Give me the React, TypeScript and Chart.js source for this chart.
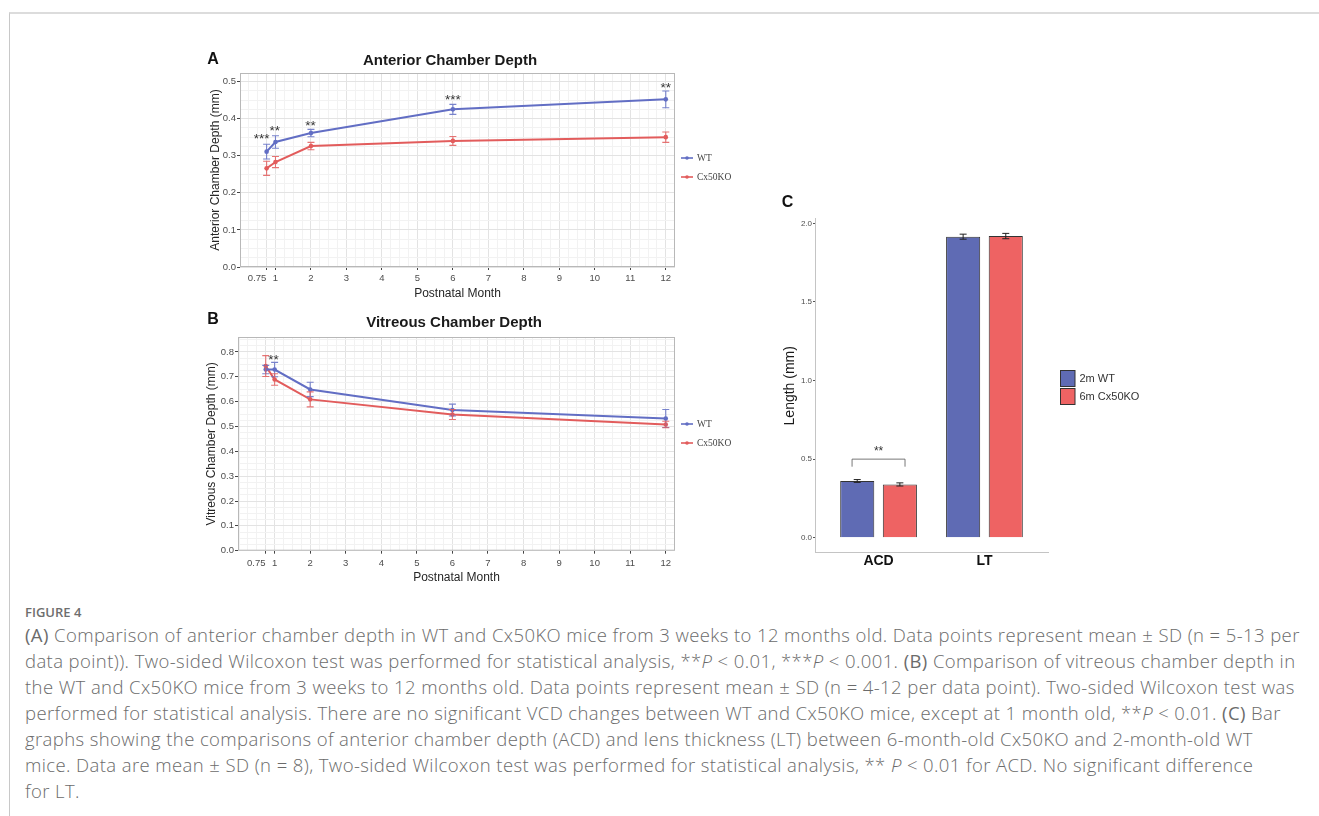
import React, { useEffect, useRef } from "react";
import { Chart, registerables } from "chart.js";
Chart.register(...registerables);

// ---------- data ----------
const months = [0.75, 1, 2, 6, 12];
const monthTicks = [0.75, 1, 2, 3, 4, 5, 6, 7, 8, 9, 10, 11, 12];
const monthTickLabels = ["0.75\u2003\u2003", "1", "2", "3", "4", "5", "6", "7", "8", "9", "10", "11", "12"];
const seriesNames = ["WT", "Cx50KO"];

const acdTicks = [0, 0.1, 0.2, 0.3, 0.4, 0.5];
const acdWT = [0.311, 0.337, 0.361, 0.425, 0.452];
const acdWTsd = [0.02, 0.017, 0.01, 0.0135, 0.0225];
const acdKO = [0.266, 0.283, 0.326, 0.34, 0.35];
const acdKOsd = [0.019, 0.015, 0.01, 0.012, 0.014];
const acdStarX = [0.61, 0.98, 1.99, 6.0, 12.0];
const acdStarY = [0.354, 0.376, 0.39, 0.46, 0.491];
const acdStarText = ["***", "**", "**", "***", "**"];

const vcdTicks = [0, 0.1, 0.2, 0.3, 0.4, 0.5, 0.6, 0.7, 0.8];
const vcdWT = [0.729, 0.729, 0.649, 0.566, 0.532];
const vcdWTsd = [0.017, 0.029, 0.029, 0.024, 0.036];
const vcdKO = [0.743, 0.689, 0.609, 0.548, 0.508];
const vcdKOsd = [0.042, 0.023, 0.03, 0.02, 0.013];
const vcdStarX = [0.97];
const vcdStarY = [0.78];
const vcdStarText = ["**"];

const barCategories = ["ACD", "LT"];
const barSeriesNames = ["2m WT", "6m Cx50KO"];
const barWT = [0.361, 1.915];
const barWTsd = [0.009, 0.016];
const barKO = [0.339, 1.919];
const barKOsd = [0.01, 0.017];
const barYTicks = [0, 0.5, 1.0, 1.5, 2.0];
const barStarX = [1];
const barStarY = [0.568];
const barStarText = ["**"];
const bracketX = [0.75, 1.25];
const bracketY = [0.5, 0.452];

// ---------- styles ----------
const BLUE = "rgb(98,110,196)";
const RED = "rgb(226,92,92)";
const BLUE_ERR = "rgba(98,110,196,0.85)";
const RED_ERR = "rgba(226,92,92,0.85)";
const BAR_BLUE = "rgb(95,107,180)";
const BAR_RED = "rgb(238,99,99)";
const SANS = "'Liberation Sans', Arial, sans-serif";
const SERIF = "'Liberation Serif', 'Times New Roman', serif";

const near = (a: number, b: number) => Math.abs(a - b) < 1e-7;

const decor = {
  id: "decor",
  beforeDatasetsDraw(chart: any, _a: any, o: any) {
    const ctx = chart.ctx;
    const ca = chart.chartArea;
    if (o.frame) {
      ctx.save();
      ctx.strokeStyle = o.frame;
      ctx.lineWidth = 1;
      ctx.strokeRect(ca.left + 0.5, ca.top + 0.5, ca.right - ca.left - 1, ca.bottom - ca.top - 1);
      ctx.restore();
    }
  },
  afterDatasetsDraw(chart: any, _a: any, o: any) {
    const ctx = chart.ctx;
    const xs = chart.scales.x;
    const ys = chart.scales.y;
    chart.data.datasets.forEach((ds: any, di: number) => {
      if (!ds.errors) return;
      const meta = chart.getDatasetMeta(di);
      ctx.save();
      ctx.strokeStyle = ds.errorColor;
      ctx.lineWidth = o.errWidth;
      meta.data.forEach((el: any, i: number) => {
        const v = ds.data[i].y;
        const x = el.x;
        const y1 = ys.getPixelForValue(v - ds.errors[i]);
        const y2 = ys.getPixelForValue(v + ds.errors[i]);
        ctx.beginPath();
        ctx.moveTo(x, y1);
        ctx.lineTo(x, y2);
        ctx.moveTo(x - o.cap, y1);
        ctx.lineTo(x + o.cap, y1);
        ctx.moveTo(x - o.cap, y2);
        ctx.lineTo(x + o.cap, y2);
        ctx.stroke();
      });
      ctx.restore();
    });
    if (o.bracket) {
      const b = o.bracket;
      const xa = xs.getPixelForValue(b.x[0]);
      const xb = xs.getPixelForValue(b.x[1]);
      const yt = ys.getPixelForValue(b.y[0]);
      const yl = ys.getPixelForValue(b.y[1]);
      ctx.save();
      ctx.strokeStyle = "#555";
      ctx.lineWidth = 0.8;
      ctx.beginPath();
      ctx.moveTo(xa, yl);
      ctx.lineTo(xa, yt);
      ctx.lineTo(xb, yt);
      ctx.lineTo(xb, yl);
      ctx.stroke();
      ctx.restore();
    }
    if (o.stars) {
      ctx.save();
      ctx.font = `${o.stars.size}px ${SANS}`;
      ctx.fillStyle = "#333";
      ctx.textAlign = "center";
      ctx.textBaseline = "middle";
      o.stars.text.forEach((t: string, i: number) => {
        ctx.fillText(t, xs.getPixelForValue(o.stars.x[i]), ys.getPixelForValue(o.stars.y[i]) + o.stars.size * 0.27);
      });
      ctx.restore();
    }
  },
  afterDraw(chart: any, _a: any, o: any) {
    const ctx = chart.ctx;
    const ca = chart.chartArea;
    ctx.save();
    ctx.fillStyle = "#111";
    ctx.textBaseline = "middle";
    if (o.letter) {
      ctx.font = `bold 16px ${SANS}`;
      ctx.textAlign = "center";
      ctx.fillText(o.letter, o.letterX, o.letterY);
    }
    if (o.title) {
      ctx.font = `bold 15px ${SANS}`;
      ctx.textAlign = "center";
      ctx.fillStyle = "#1a1a1a";
      ctx.fillText(o.title, o.titleX, o.titleY);
    }
    const lg = o.legend;
    if (lg) {
      lg.labels.forEach((lab: string, i: number) => {
        const x0 = ca.right + lg.dx;
        const y = ca.top + lg.top + i * lg.gap;
        if (lg.kind === "line") {
          ctx.strokeStyle = lg.colors[i];
          ctx.fillStyle = lg.colors[i];
          ctx.lineWidth = 1.6;
          ctx.beginPath();
          ctx.moveTo(x0, y);
          ctx.lineTo(x0 + 12, y);
          ctx.stroke();
          ctx.beginPath();
          ctx.arc(x0 + 6, y, 1.8, 0, Math.PI * 2);
          ctx.fill();
          ctx.fillStyle = "#444";
          ctx.font = `9.5px ${SERIF}`;
          ctx.textAlign = "left";
          ctx.fillText(lab, x0 + 16, y + 0.5);
        } else {
          ctx.fillStyle = lg.colors[i];
          ctx.fillRect(x0, y, 15, 16.5);
          ctx.strokeStyle = "#333";
          ctx.lineWidth = 1;
          ctx.strokeRect(x0 + 0.5, y + 0.5, 14.5, 16);
          ctx.fillStyle = "#333";
          ctx.font = `11px ${SANS}`;
          ctx.textAlign = "left";
          ctx.fillText(lab, x0 + 19.5, y + 8.5);
        }
      });
    }
    ctx.restore();
  },
};

function fineTicks(min: number, max: number, step: number) {
  const out: number[] = [];
  const n = Math.round((max - min) / step);
  for (let i = 0; i <= n; i++) out.push(Math.round((min + i * step) * 10000) / 10000);
  return out;
}

function lineConfig(p: any) {
  const xFine = fineTicks(0, 12, 0.25).concat(monthTicks).filter((v, i, a) => a.indexOf(v) === i);
  const yFine = fineTicks(0, p.yMaxTick, 0.025);
  const majXIndex = (v: number) => monthTicks.findIndex((m) => near(m, v));
  const isMajX = (v: number) => majXIndex(v) >= 0;
  const isMajY = (v: number) => p.yTicks.some((m: number) => near(m, v));
  return {
    type: "line",
    data: {
      datasets: [
        {
          label: seriesNames[0],
          data: months.map((m, i) => ({ x: m, y: p.wt[i] })),
          errors: p.wtSd,
          errorColor: BLUE_ERR,
          borderColor: BLUE,
          backgroundColor: BLUE,
          borderWidth: 2,
          pointRadius: 2.3,
          pointBorderWidth: 0,
          tension: 0,
        },
        {
          label: seriesNames[1],
          data: months.map((m, i) => ({ x: m, y: p.ko[i] })),
          errors: p.koSd,
          errorColor: RED_ERR,
          borderColor: RED,
          backgroundColor: RED,
          borderWidth: 2,
          pointRadius: 2.3,
          pointBorderWidth: 0,
          tension: 0,
        },
      ],
    },
    options: {
      animation: false,
      responsive: false,
      events: [],
      layout: { padding: { top: p.padTop, right: p.padRight, left: 0, bottom: 0 } },
      plugins: {
        legend: { display: false },
        tooltip: { enabled: false },
        decor: {
          frame: "#b8b8b8",
          errWidth: 1.1,
          cap: 3.5,
          letter: p.letter,
          letterX: p.letterX,
          letterY: p.letterY,
          title: p.title,
          titleX: p.titleX,
          titleY: p.titleY,
          stars: { x: p.starX, y: p.starY, text: p.starText, size: 13.5 },
          legend: { kind: "line", labels: seriesNames, colors: [BLUE, RED], dx: 6, top: p.legendTop, gap: 19 },
        },
      },
      scales: {
        x: {
          type: "linear",
          min: p.xMin,
          max: p.xMax,
          afterBuildTicks: (s: any) => {
            s.ticks = xFine.filter((v) => v >= p.xMin && v <= p.xMax).map((v) => ({ value: v }));
          },
          afterFit: (s: any) => {
            s.height = p.xHeight;
          },
          ticks: {
            autoSkip: false,
            maxRotation: 0,
            minRotation: 0,
            padding: p.xTickPad,
            color: "#4d4d4d",
            font: { family: SANS, size: 9.5 },
            callback: (v: number) => {
              const k = majXIndex(v);
              return k >= 0 ? monthTickLabels[k] : "";
            },
          },
          grid: {
            color: (c: any) => (c.tick && isMajX(c.tick.value) ? "#e3e3e3" : "#f2f2f2"),
            tickColor: (c: any) => (c.tick && isMajX(c.tick.value) ? "#444" : "rgba(0,0,0,0)"),
            tickLength: 3,
            lineWidth: 1,
          },
          border: { display: false },
          title: {
            display: true,
            text: "Postnatal Month",
            color: "#262626",
            font: { family: SANS, size: 12 },
            padding: { top: 0, bottom: p.xTitlePad },
          },
        },
        y: {
          type: "linear",
          min: 0,
          max: p.yMax,
          afterBuildTicks: (s: any) => {
            s.ticks = yFine.filter((v) => v <= p.yMax).map((v) => ({ value: v }));
          },
          afterFit: (s: any) => {
            s.width = p.yWidth;
          },
          ticks: {
            autoSkip: false,
            padding: 1,
            color: "#4d4d4d",
            font: { family: SANS, size: 9.5 },
            callback: (v: number) => (isMajY(v) ? v.toFixed(1) : ""),
          },
          grid: {
            color: (c: any) => (c.tick && isMajY(c.tick.value) ? "#e3e3e3" : "#f2f2f2"),
            tickColor: (c: any) => (c.tick && isMajY(c.tick.value) ? "#444" : "rgba(0,0,0,0)"),
            tickLength: 3,
            lineWidth: 1,
          },
          border: { display: false },
          title: {
            display: true,
            text: p.yTitle,
            color: "#262626",
            font: { family: SANS, size: 12 },
            padding: { top: p.yTitlePad, bottom: 0 },
          },
        },
      },
    },
    plugins: [decor],
  };
}

function barConfig() {
  return {
    type: "bar",
    data: {
      datasets: [
        {
          label: barSeriesNames[0],
          data: barCategories.map((_, i) => ({ x: i + 1, y: barWT[i] })),
          errors: barWTsd,
          errorColor: "#222",
          backgroundColor: BAR_BLUE,
          borderColor: "#333",
          borderWidth: 1,
          categoryPercentage: 0.805,
          barPercentage: 0.8,
        },
        {
          label: barSeriesNames[1],
          data: barCategories.map((_, i) => ({ x: i + 1, y: barKO[i] })),
          errors: barKOsd,
          errorColor: "#222",
          backgroundColor: BAR_RED,
          borderColor: "#333",
          borderWidth: 1,
          categoryPercentage: 0.805,
          barPercentage: 0.8,
        },
      ],
    },
    options: {
      animation: false,
      responsive: false,
      events: [],
      layout: { padding: { top: 28.6, right: 102, left: 0, bottom: 0 } },
      plugins: {
        legend: { display: false },
        tooltip: { enabled: false },
        decor: {
          errWidth: 1,
          cap: 3.5,
          letter: "C",
          letterX: 17.5,
          letterY: 13,
          stars: { x: barStarX, y: barStarY, text: barStarText, size: 12 },
          bracket: { x: bracketX, y: bracketY },
          legend: { kind: "box", labels: barSeriesNames, colors: [BAR_BLUE, BAR_RED], dx: 12, top: 151.4, gap: 18 },
        },
      },
      scales: {
        x: {
          type: "linear",
          min: 0.4,
          max: 2.6,
          offset: false,
          afterBuildTicks: (s: any) => {
            s.ticks = barCategories.map((_, i) => ({ value: i + 1 }));
          },
          afterFit: (s: any) => {
            s.height = 22.1;
          },
          ticks: {
            autoSkip: false,
            maxRotation: 0,
            padding: 0,
            color: "#111",
            font: { family: SANS, size: 14, weight: "bold" },
            callback: (v: number) => barCategories[Math.round(v) - 1] || "",
          },
          grid: { drawOnChartArea: false, tickLength: 0, tickColor: "rgba(0,0,0,0)" },
          border: { display: true, color: "#c4c4c4", width: 1 },
        },
        y: {
          type: "linear",
          min: -0.0965,
          max: 2.03,
          afterBuildTicks: (s: any) => {
            s.ticks = barYTicks.map((v) => ({ value: v }));
          },
          afterFit: (s: any) => {
            s.width = 45;
          },
          ticks: {
            autoSkip: false,
            padding: 1,
            color: "#4d4d4d",
            font: { family: SANS, size: 8 },
            callback: (v: number) => v.toFixed(1),
          },
          grid: { drawOnChartArea: false, tickLength: 2, tickColor: "#555" },
          border: { display: true, color: "#c4c4c4", width: 1 },
          title: {
            display: true,
            text: "Length (mm)",
            color: "#1a1a1a",
            font: { family: SANS, size: 14 },
            padding: { top: 11.6, bottom: 0 },
          },
        },
      },
    },
    plugins: [decor],
  };
}

function ChartCanvas({ make, left, top, width, height }: any) {
  const ref = useRef<HTMLCanvasElement>(null);
  useEffect(() => {
    const c = new Chart(ref.current as HTMLCanvasElement, make() as any);
    return () => c.destroy();
  }, []);
  return (
    <canvas
      ref={ref}
      width={width}
      height={height}
      style={{ position: "absolute", left, top, width, height }}
    />
  );
}

const makeA = () =>
  lineConfig({
    letter: "A",
    letterX: 18,
    letterY: 15,
    title: "Anterior Chamber Depth",
    titleX: 255,
    titleY: 16,
    yTitle: "Anterior Chamber Depth (mm)",
    yTicks: acdTicks,
    yMaxTick: 0.5,
    yMax: 0.523,
    xMin: 0,
    xMax: 12.26,
    wt: acdWT,
    wtSd: acdWTsd,
    ko: acdKO,
    koSd: acdKOsd,
    starX: acdStarX,
    starY: acdStarY,
    starText: acdStarText,
    padTop: 28,
    padRight: 85,
    yWidth: 45,
    xHeight: 38,
    xTickPad: 3,
    xTitlePad: 4.5,
    yTitlePad: 13,
    legendTop: 85,
  });

const makeB = () =>
  lineConfig({
    letter: "B",
    letterX: 18,
    letterY: 10,
    title: "Vitreous Chamber Depth",
    titleX: 259,
    titleY: 12.7,
    yTitle: "Vitreous Chamber Depth (mm)",
    yTicks: vcdTicks,
    yMaxTick: 0.85,
    yMax: 0.86,
    xMin: -0.03,
    xMax: 12.26,
    wt: vcdWT,
    wtSd: vcdWTsd,
    ko: vcdKO,
    koSd: vcdKOsd,
    starX: vcdStarX,
    starY: vcdStarY,
    starText: vcdStarText,
    padTop: 27,
    padRight: 85,
    yWidth: 43,
    xHeight: 39.3,
    xTickPad: 3.5,
    xTitlePad: 5,
    yTitlePad: 9.5,
    legendTop: 87,
  });

const captionLines = [
  <>
    <b>(A)</b> Comparison of anterior chamber depth in WT and Cx50KO mice from 3 weeks to 12 months old. Data points represent mean ± SD (n = 5-13 per
  </>,
  <>
    data point)). Two-sided Wilcoxon test was performed for statistical analysis, **<i>P</i> &lt; 0.01, ***<i>P</i> &lt; 0.001. <b>(B)</b> Comparison of vitreous chamber depth in
  </>,
  <>the WT and Cx50KO mice from 3 weeks to 12 months old. Data points represent mean ± SD (n = 4-12 per data point). Two-sided Wilcoxon test was</>,
  <>
    performed for statistical analysis. There are no significant VCD changes between WT and Cx50KO mice, except at 1 month old, **<i>P</i> &lt; 0.01. <b>(C)</b> Bar
  </>,
  <>graphs showing the comparisons of anterior chamber depth (ACD) and lens thickness (LT) between 6-month-old Cx50KO and 2-month-old WT</>,
  <>
    mice. Data are mean ± SD (n = 8), Two-sided Wilcoxon test was performed for statistical analysis, ** <i>P</i> &lt; 0.01 for ACD. No significant difference
  </>,
  <>for LT.</>,
];

export default function App() {
  return (
    <div style={{ position: "absolute", left: 0, top: 0, width: 1319, height: 816, background: "#fff", overflow: "hidden" }}>
      <div
        style={{
          position: "absolute",
          left: 9,
          top: 12,
          right: 0,
          bottom: 0,
          borderTop: "2px solid #dcdcdc",
          borderLeft: "1px solid #c8c8c8",
        }}
      />
      <ChartCanvas make={makeA} left={195} top={45} width={565} height={260} />
      <ChartCanvas make={makeB} left={195} top={310} width={565} height={280} />
      <ChartCanvas make={barConfig} left={770} top={190} width={380} height={385} />
      <div
        style={{
          position: "absolute",
          left: 25,
          top: 604,
          fontFamily: "'Open Sans', sans-serif",
          fontSize: 13,
          lineHeight: "16px",
          color: "#6e6e6e",
          fontWeight: 600,
        }}
      >
        FIGURE 4
      </div>
      <div
        style={{
          position: "absolute",
          left: 25,
          top: 622,
          fontFamily: "'Open Sans', sans-serif",
          fontSize: 18.5,
          letterSpacing: 0.4,
          lineHeight: "26px",
          color: "#6b6b6b",
          fontWeight: 300,
          whiteSpace: "nowrap",
        }}
      >
        {captionLines.map((l, i) => (
          <div key={i}>{l}</div>
        ))}
      </div>
    </div>
  );
}
